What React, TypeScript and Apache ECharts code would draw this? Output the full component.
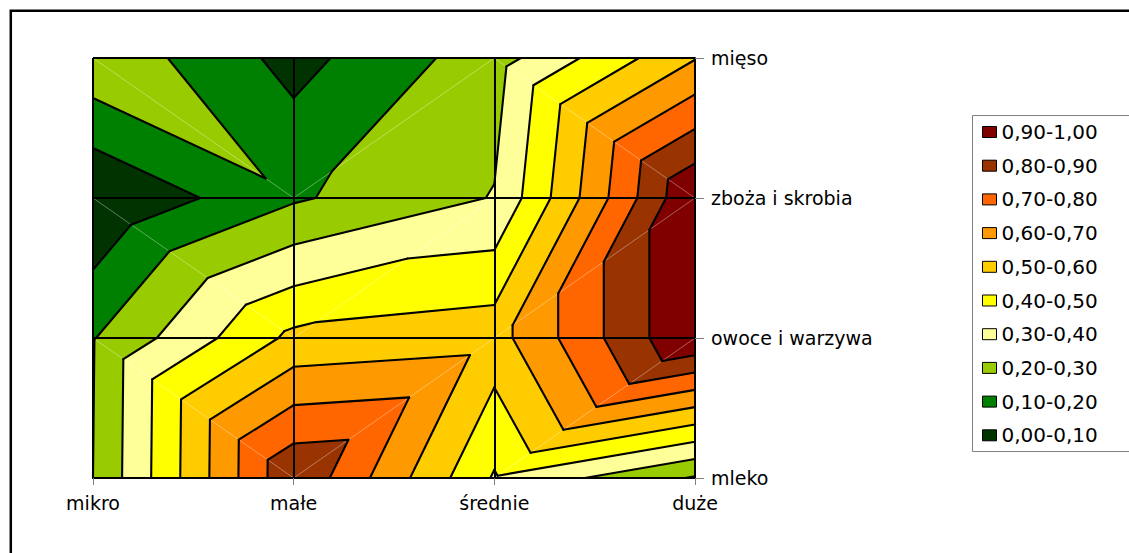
import React, { useEffect, useRef } from "react";
import * as echarts from "echarts";

// Categories
const sizeCategories = ["mikro", "małe", "średnie", "duże"];
const productCategories = ["mleko", "owoce i warzywa", "zboża i skrobia", "mięso"];

// Surface values (one array per product row, ordered by size category)
const mleko = [0.2, 0.89, 0.39, 0.19];
const owoceIWarzywa = [0.195, 0.525, 0.56, 1.0];
const zbozaISkrobia = [0.0, 0.187, 0.305, 1.0];
const mieso = [0.28, 0.065, 0.255, 0.595];

// Bands (legend), lowest first
const bandLower = [0.0, 0.1, 0.2, 0.3, 0.4, 0.5, 0.6, 0.7, 0.8, 0.9];
const bandUpper = [0.1, 0.2, 0.3, 0.4, 0.5, 0.6, 0.7, 0.8, 0.9, 1.0];
const bandLabels = [
  "0,00-0,10",
  "0,10-0,20",
  "0,20-0,30",
  "0,30-0,40",
  "0,40-0,50",
  "0,50-0,60",
  "0,60-0,70",
  "0,70-0,80",
  "0,80-0,90",
  "0,90-1,00",
];
const bandColors = [
  "#003300",
  "#008000",
  "#99CC00",
  "#FFFF99",
  "#FFFF00",
  "#FFCC00",
  "#FF9900",
  "#FF6600",
  "#993300",
  "#800000",
];
const contourLevels = [0.1, 0.2, 0.3, 0.4, 0.5, 0.6, 0.7, 0.8, 0.9];

const surface = [mleko, owoceIWarzywa, zbozaISkrobia, mieso];

type P = { x: number; y: number; v: number };

function corner(api: any, i: number, j: number): P {
  const c = api.coord([i, j]);
  return { x: c[0], y: c[1], v: surface[j][i] };
}

function cellTriangles(api: any, i: number, j: number): P[][] {
  const BL = corner(api, i, j);
  const BR = corner(api, i + 1, j);
  const TL = corner(api, i, j + 1);
  const TR = corner(api, i + 1, j + 1);
  if (TL.v + BR.v >= BL.v + TR.v) {
    return [
      [TL, BL, BR],
      [TL, TR, BR],
    ];
  }
  return [
    [BL, TL, TR],
    [BL, BR, TR],
  ];
}

function cellDiagonal(api: any, i: number, j: number): [P, P] {
  const BL = corner(api, i, j);
  const BR = corner(api, i + 1, j);
  const TL = corner(api, i, j + 1);
  const TR = corner(api, i + 1, j + 1);
  return TL.v + BR.v >= BL.v + TR.v ? [TL, BR] : [BL, TR];
}

function clip(poly: P[], level: number, keepAbove: boolean): P[] {
  const out: P[] = [];
  const inside = (p: P) => (keepAbove ? p.v >= level : p.v <= level);
  for (let k = 0; k < poly.length; k++) {
    const a = poly[k];
    const b = poly[(k + 1) % poly.length];
    const ia = inside(a);
    const ib = inside(b);
    if (ia) out.push(a);
    if (ia !== ib) {
      const t = (level - a.v) / (b.v - a.v);
      out.push({ x: a.x + t * (b.x - a.x), y: a.y + t * (b.y - a.y), v: level });
    }
  }
  return out;
}

function contourSegment(tri: P[], L: number): P[] | null {
  const pts: P[] = [];
  for (const p of tri) if (p.v === L) pts.push(p);
  for (let k = 0; k < 3; k++) {
    const a = tri[k];
    const b = tri[(k + 1) % 3];
    if ((a.v - L) * (b.v - L) < 0) {
      const t = (L - a.v) / (b.v - a.v);
      pts.push({ x: a.x + t * (b.x - a.x), y: a.y + t * (b.y - a.y), v: L });
    }
  }
  return pts.length === 2 ? pts : null;
}

const cells: number[][] = [];
for (let j = 0; j < productCategories.length - 1; j++) {
  for (let i = 0; i < sizeCategories.length - 1; i++) {
    cells.push([i, j]);
  }
}

const FONT = "DejaVu Sans";

export default function App() {
  const ref = useRef<HTMLDivElement>(null);

  useEffect(() => {
    if (!ref.current) return;
    const chart = echarts.init(ref.current, null, { renderer: "svg" });

    const bandSeries = bandLabels.map((name, k) => ({
      type: "custom",
      name,
      data: cells,
      silent: true,
      z: 2,
      itemStyle: { color: bandColors[k] },
      renderItem: (params: any, api: any) => {
        const i = api.value(0);
        const j = api.value(1);
        const children: any[] = [];
        for (const tri of cellTriangles(api, i, j)) {
          let poly = tri;
          if (k > 0) poly = clip(poly, bandLower[k], true);
          if (k < bandLabels.length - 1 && poly.length >= 3) poly = clip(poly, bandUpper[k], false);
          if (poly.length >= 3) {
            children.push({
              type: "polygon",
              shape: { points: poly.map((p) => [p.x, p.y]) },
              style: { fill: bandColors[k], stroke: bandColors[k], lineWidth: 0.6 },
            });
          }
        }
        return { type: "group", children };
      },
    }));

    const contourSeries = {
      type: "custom",
      name: "contours",
      data: cells,
      silent: true,
      z: 5,
      renderItem: (params: any, api: any) => {
        const i = api.value(0);
        const j = api.value(1);
        const children: any[] = [];
        const [d1, d2] = cellDiagonal(api, i, j);
        children.push({
          type: "line",
          shape: { x1: d1.x, y1: d1.y, x2: d2.x, y2: d2.y },
          style: { stroke: "rgba(255,255,255,0.45)", lineWidth: 0.7 },
        });
        for (const tri of cellTriangles(api, i, j)) {
          for (const L of contourLevels) {
            const seg = contourSegment(tri, L);
            if (seg) {
              children.push({
                type: "line",
                shape: { x1: seg[0].x, y1: seg[0].y, x2: seg[1].x, y2: seg[1].y },
                style: { stroke: "#000", lineWidth: 2.1, lineCap: "round" },
              });
            }
          }
        }
        return { type: "group", children };
      },
    };

    chart.setOption({
      animation: false,
      backgroundColor: "#fff",
      grid: {
        left: 93,
        right: 434,
        top: 58,
        bottom: 75,
        containLabel: false,
        outerBoundsMode: "none",
      },
      xAxis: {
        type: "category",
        data: sizeCategories,
        boundaryGap: false,
        z: 10,
        axisLine: { show: true, lineStyle: { color: "#000", width: 2 } },
        axisTick: { show: true, length: 7, lineStyle: { color: "#808080", width: 1 } },
        axisLabel: { margin: 15, fontSize: 19, fontFamily: FONT, color: "#000" },
        splitLine: { show: true, lineStyle: { color: "#000", width: 2 } },
      },
      yAxis: {
        type: "category",
        data: productCategories,
        position: "right",
        boundaryGap: false,
        z: 10,
        axisLine: { show: true, lineStyle: { color: "#000", width: 2 } },
        axisTick: { show: true, length: 9, lineStyle: { color: "#808080", width: 1 } },
        axisLabel: { margin: 16, fontSize: 19, fontFamily: FONT, color: "#000" },
        splitLine: { show: true, lineStyle: { color: "#000", width: 2 } },
      },
      legend: {
        data: bandLabels.slice().reverse(),
        orient: "vertical",
        left: 982,
        top: 122,
        padding: 0,
        itemWidth: 14,
        itemHeight: 11,
        itemGap: 13.7,
        itemTextGap: 12,
        icon: "rect",
        selectedMode: false,
        itemStyle: { borderColor: "#000", borderWidth: 1 },
        textStyle: { fontSize: 20, lineHeight: 20, fontFamily: FONT, color: "#000" },
      },
      graphic: [
        {
          type: "rect",
          silent: true,
          shape: { x: 10.8, y: 10.8, width: 1400, height: 800 },
          style: { fill: "none", stroke: "#000", lineWidth: 2.5 },
        },
        {
          type: "rect",
          silent: true,
          shape: { x: 972.5, y: 115.5, width: 300, height: 336 },
          style: { fill: "none", stroke: "#808080", lineWidth: 1 },
        },
      ],
      series: [...bandSeries, contourSeries],
    });

    return () => {
      chart.dispose();
    };
  }, []);

  return (
    <div
      ref={ref}
      style={{ position: "absolute", left: 0, top: 0, width: 1129, height: 553 }}
    />
  );
}
